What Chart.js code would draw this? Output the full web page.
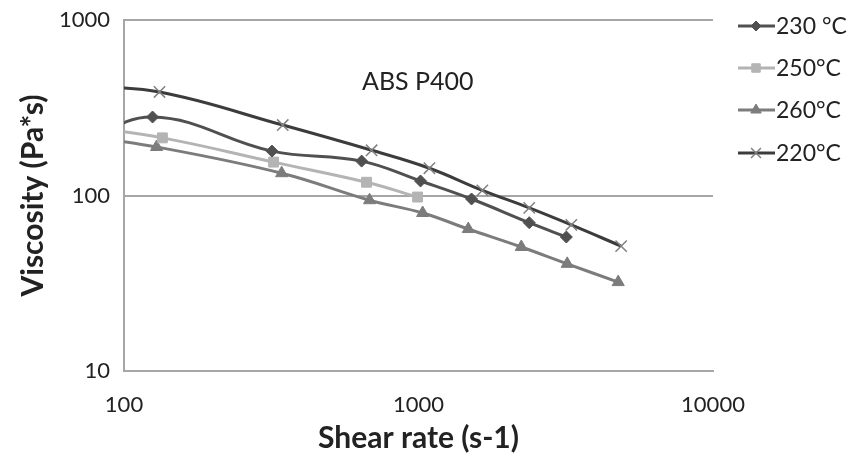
<!DOCTYPE html>
<html>
<head>
<meta charset="utf-8">
<script src="https://cdn.jsdelivr.net/npm/chart.js@4.4.1/dist/chart.umd.min.js"></script>
<style>
  body { margin: 0; background: #fff; }
  #wrap { width: 860px; height: 456px; }
</style>
</head>
<body>
<div id="wrap"><canvas id="viscChart"></canvas></div>
<script>
// shear rate (s-1) and viscosity (Pa*s)
// first point of each series sits left of 100 and is clipped, the curves just run in from the edge
const shear230 = [70, 125, 318, 641, 1016, 1514, 2377, 3177];
const visc230 = [190, 280, 179, 157, 121, 95.5, 70, 58];

const shear250 = [70, 135, 322, 666, 993];
const visc250 = [250, 213, 155, 119, 98];

const shear260 = [70, 129, 343, 682, 1033, 1476, 2234, 3199, 4766];
const visc260 = [220, 189, 134, 94, 79.5, 64.4, 50.9, 40.8, 32.1];

const shear220 = [70, 132, 346, 693, 1089, 1648, 2377, 3303, 4876];
const visc220 = [420, 389, 252, 181, 143, 107, 85, 68, 51.5];

const xTicks = [100, 1000, 10000];
const yTicks = [10, 100, 1000];

const FONT = 'Lato, "Open Sans", sans-serif';

function pts(xs, ys) {
    return xs.map((x, i) => ({ x: x, y: ys[i] }));
}

function series(label, xs, ys, color, style, radius, markColor, markWidth) {
    return {
        label: label,
        data: pts(xs, ys),
        borderColor: color,
        backgroundColor: color,
        borderWidth: 3,
        tension: 0.4,
        pointStyle: style,
        pointRadius: radius,
        pointBackgroundColor: markColor,
        pointBorderColor: markColor,
        pointBorderWidth: markWidth
    };
}

// legend on the right: line sample with the marker in the middle
const sideLegend = {
    id: 'sideLegend',
    afterDraw(chart) {
        const ctx = chart.ctx;
        const rows = [26, 68, 110, 153];
        ctx.save();
        chart.data.datasets.forEach((ds, i) => {
            const y = rows[i];
            ctx.strokeStyle = ds.borderColor;
            ctx.lineWidth = 3;
            ctx.beginPath();
            ctx.moveTo(738, y);
            ctx.lineTo(775, y);
            ctx.stroke();
            ctx.fillStyle = ds.pointBackgroundColor;
            ctx.strokeStyle = ds.pointBorderColor;
            ctx.lineWidth = ds.pointBorderWidth;
            Chart.helpers.drawPoint(ctx, {
                pointStyle: ds.pointStyle,
                radius: ds.pointRadius - 1,
                rotation: 0,
                borderWidth: ds.pointBorderWidth
            }, 756, y);
            ctx.fillStyle = '#222';
            ctx.font = '23px ' + FONT;
            ctx.textBaseline = 'middle';
            ctx.fillText(ds.label, 776, y + 1);
        });
        // plot label
        ctx.fillStyle = '#222';
        ctx.font = '25px ' + FONT;
        ctx.fillText('ABS P400', 362, 82);
        ctx.restore();
    }
};

new Chart(document.getElementById('viscChart'), {
    type: 'line',
    data: {
        datasets: [
            series('230 °C', shear230, visc230, '#505050', 'rectRot', 6, '#505050', 1),
            series('250°C', shear250, visc250, '#b4b4b4', 'rect', 7, '#b4b4b4', 1),
            series('260°C', shear260, visc260, '#7c7c7c', 'triangle', 7, '#7c7c7c', 1),
            series('220°C', shear220, visc220, '#3c3c3c', 'crossRot', 8, '#808080', 1.5)
        ]
    },
    options: {
        responsive: true,
        maintainAspectRatio: false,
        animation: false,
        layout: { padding: { left: 0, top: 20, right: 147, bottom: 0 } },
        plugins: {
            legend: { display: false },
            tooltip: { enabled: false }
        },
        scales: {
            x: {
                type: 'logarithmic',
                min: 100,
                max: 10000,
                afterBuildTicks: (scale) => { scale.ticks = xTicks.map(v => ({ value: v })); },
                afterFit: (scale) => { scale.height = 85; },
                grid: { display: false },
                border: { display: true, color: '#a6a6a6', width: 2 },
                ticks: {
                    color: '#222',
                    font: { family: FONT, size: 22 },
                    padding: 13,
                    maxRotation: 0,
                    callback: (v) => String(v)
                },
                title: {
                    display: true,
                    text: 'Shear rate (s-1)',
                    color: '#222',
                    font: { family: FONT, size: 30, weight: 'bold' },
                    padding: { top: 0, bottom: 0 }
                }
            },
            y: {
                type: 'logarithmic',
                min: 10,
                max: 1000,
                afterBuildTicks: (scale) => { scale.ticks = yTicks.map(v => ({ value: v })); },
                afterFit: (scale) => {
                    scale.width = 124;
                    // keep the label padding from pushing the plot down
                    scale.paddingTop = 0;
                    scale.paddingBottom = 0;
                },
                grid: { color: '#a6a6a6', lineWidth: 2, drawTicks: false },
                border: { display: true, color: '#a6a6a6', width: 2 },
                ticks: {
                    color: '#222',
                    font: { family: FONT, size: 22 },
                    padding: 14,
                    callback: (v) => String(v)
                },
                title: {
                    display: true,
                    text: 'Viscosity (Pa*s)',
                    color: '#222',
                    font: { family: FONT, size: 30, weight: 'bold' },
                    padding: { top: 15, bottom: 0 }
                }
            }
        }
    },
    plugins: [sideLegend]
});
</script>
</body>
</html>
